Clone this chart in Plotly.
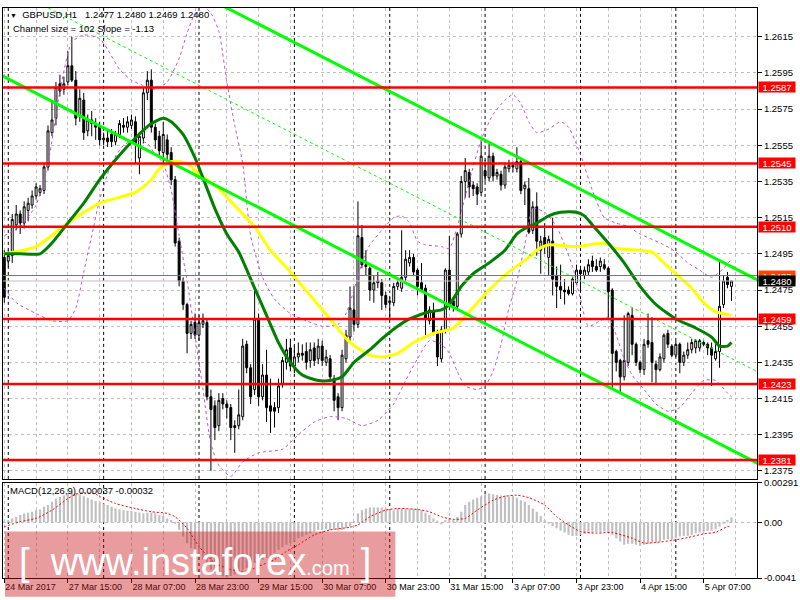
import plotly.graph_objects as go

# bar index 0..183 (H1 bars, GBPUSD)
bars = list(range(184))

opens = [1.2493, 1.2491, 1.2494, 1.2511, 1.2517, 1.2512, 1.2519, 1.2522, 1.2527, 1.2529,
         1.2530, 1.2543, 1.2562, 1.2570, 1.2589, 1.2586, 1.2590, 1.2599, 1.2591, 1.2572,
         1.2580, 1.2563, 1.2569, 1.2566, 1.2566, 1.2558, 1.2559, 1.2561, 1.2557, 1.2561,
         1.2566, 1.2565, 1.2566, 1.2568, 1.2548, 1.2559, 1.2584, 1.2591, 1.2565, 1.2560,
         1.2551, 1.2558, 1.2551, 1.2536, 1.2502, 1.2480, 1.2467, 1.2451, 1.2457, 1.2450,
         1.2456, 1.2457, 1.2416, 1.2411, 1.2400, 1.2415, 1.2412, 1.2410, 1.2400, 1.2400,
         1.2405, 1.2445, 1.2432, 1.2420, 1.2459, 1.2416, 1.2428, 1.2411, 1.2410, 1.2410,
         1.2423, 1.2435, 1.2443, 1.2433, 1.2438, 1.2440, 1.2441, 1.2436, 1.2443, 1.2437,
         1.2444, 1.2435, 1.2437, 1.2426, 1.2416, 1.2410, 1.2437, 1.2449, 1.2464, 1.2456,
         1.2504, 1.2489, 1.2487, 1.2475, 1.2479, 1.2479, 1.2472, 1.2468, 1.2468, 1.2477,
         1.2476, 1.2482, 1.2490, 1.2493, 1.2486, 1.2479, 1.2476, 1.2458, 1.2463, 1.2452,
         1.2437, 1.2453, 1.2486, 1.2469, 1.2466, 1.2506, 1.2535, 1.2540, 1.2533, 1.2532,
         1.2529, 1.2541, 1.2537, 1.2549, 1.2538, 1.2539, 1.2533, 1.2542, 1.2544, 1.2542,
         1.2546, 1.2531, 1.2531, 1.2508, 1.2521, 1.2497, 1.2504, 1.2493, 1.2502, 1.2483,
         1.2477, 1.2475, 1.2475, 1.2473, 1.2479, 1.2486, 1.2483, 1.2485, 1.2491, 1.2488,
         1.2488, 1.2489, 1.2487, 1.2475, 1.2441, 1.2436, 1.2427, 1.2435, 1.2461, 1.2445,
         1.2435, 1.2431, 1.2447, 1.2446, 1.2434, 1.2431, 1.2437, 1.2451, 1.2444, 1.2439,
         1.2445, 1.2435, 1.2439, 1.2442, 1.2443, 1.2443, 1.2446, 1.2445, 1.2443, 1.2437,
         1.2441, 1.2467, 1.2482, 1.2477]

highs = [1.2497, 1.2497, 1.2517, 1.2522, 1.2519, 1.2524, 1.2526, 1.2530, 1.2534, 1.2533,
         1.2545, 1.2566, 1.2579, 1.2590, 1.2594, 1.2593, 1.2607, 1.2615, 1.2596, 1.2586,
         1.2584, 1.2572, 1.2574, 1.2570, 1.2568, 1.2562, 1.2563, 1.2564, 1.2563, 1.2569,
         1.2570, 1.2571, 1.2572, 1.2571, 1.2562, 1.2587, 1.2596, 1.2597, 1.2567, 1.2563,
         1.2568, 1.2561, 1.2554, 1.2538, 1.2504, 1.2482, 1.2468, 1.2458, 1.2462, 1.2461,
         1.2462, 1.2459, 1.2420, 1.2414, 1.2418, 1.2418, 1.2414, 1.2412, 1.2403, 1.2420,
         1.2448, 1.2447, 1.2434, 1.2475, 1.2462, 1.2434, 1.2442, 1.2426, 1.2413, 1.2426,
         1.2438, 1.2448, 1.2448, 1.2444, 1.2446, 1.2445, 1.2446, 1.2446, 1.2446, 1.2448,
         1.2447, 1.2442, 1.2439, 1.2428, 1.2418, 1.2442, 1.2453, 1.2477, 1.2477, 1.2524,
         1.2511, 1.2497, 1.2488, 1.2483, 1.2485, 1.2481, 1.2474, 1.2471, 1.2479, 1.2481,
         1.2508, 1.2497, 1.2497, 1.2495, 1.2487, 1.2490, 1.2478, 1.2466, 1.2468, 1.2453,
         1.2455, 1.2487, 1.2505, 1.2471, 1.2507, 1.2538, 1.2548, 1.2542, 1.2535, 1.2534,
         1.2557, 1.2547, 1.2556, 1.2551, 1.2542, 1.2541, 1.2545, 1.2547, 1.2546, 1.2554,
         1.2548, 1.2535, 1.2537, 1.2524, 1.2529, 1.2505, 1.2512, 1.2505, 1.2515, 1.2488,
         1.2489, 1.2481, 1.2477, 1.2482, 1.2489, 1.2488, 1.2488, 1.2492, 1.2494, 1.2492,
         1.2493, 1.2492, 1.2488, 1.2476, 1.2442, 1.2437, 1.2461, 1.2463, 1.2465, 1.2446,
         1.2436, 1.2448, 1.2462, 1.2460, 1.2436, 1.2440, 1.2451, 1.2453, 1.2445, 1.2447,
         1.2446, 1.2441, 1.2446, 1.2448, 1.2448, 1.2448, 1.2447, 1.2446, 1.2446, 1.2445,
         1.2491, 1.2483, 1.2485, 1.2480]

lows = [1.2468, 1.2488, 1.2490, 1.2508, 1.2506, 1.2509, 1.2513, 1.2520, 1.2525, 1.2527,
        1.2528, 1.2541, 1.2560, 1.2566, 1.2582, 1.2583, 1.2588, 1.2590, 1.2566, 1.2568,
        1.2558, 1.2560, 1.2560, 1.2558, 1.2555, 1.2555, 1.2554, 1.2554, 1.2555, 1.2559,
        1.2562, 1.2562, 1.2564, 1.2545, 1.2539, 1.2556, 1.2580, 1.2562, 1.2553, 1.2548,
        1.2545, 1.2547, 1.2533, 1.2499, 1.2477, 1.2464, 1.2440, 1.2448, 1.2448, 1.2447,
        1.2454, 1.2414, 1.2375, 1.2392, 1.2397, 1.2409, 1.2404, 1.2392, 1.2385, 1.2398,
        1.2403, 1.2429, 1.2412, 1.2417, 1.2411, 1.2414, 1.2402, 1.2396, 1.2399, 1.2407,
        1.2421, 1.2431, 1.2430, 1.2429, 1.2435, 1.2436, 1.2431, 1.2432, 1.2433, 1.2434,
        1.2433, 1.2433, 1.2425, 1.2408, 1.2403, 1.2408, 1.2435, 1.2447, 1.2452, 1.2454,
        1.2487, 1.2483, 1.2469, 1.2468, 1.2476, 1.2464, 1.2465, 1.2459, 1.2466, 1.2475,
        1.2474, 1.2480, 1.2488, 1.2483, 1.2472, 1.2474, 1.2449, 1.2456, 1.2450, 1.2433,
        1.2435, 1.2451, 1.2464, 1.2463, 1.2464, 1.2504, 1.2526, 1.2526, 1.2527, 1.2522,
        1.2527, 1.2535, 1.2535, 1.2535, 1.2536, 1.2530, 1.2531, 1.2540, 1.2540, 1.2540,
        1.2528, 1.2522, 1.2506, 1.2506, 1.2494, 1.2484, 1.2495, 1.2483, 1.2472, 1.2465,
        1.2470, 1.2467, 1.2472, 1.2472, 1.2478, 1.2474, 1.2481, 1.2483, 1.2485, 1.2485,
        1.2485, 1.2486, 1.2459, 1.2420, 1.2430, 1.2418, 1.2425, 1.2433, 1.2439, 1.2433,
        1.2429, 1.2428, 1.2443, 1.2424, 1.2423, 1.2430, 1.2435, 1.2443, 1.2438, 1.2438,
        1.2429, 1.2433, 1.2437, 1.2440, 1.2440, 1.2441, 1.2444, 1.2439, 1.2422, 1.2436,
        1.2432, 1.2465, 1.2476, 1.2469]

closes = [1.2471, 1.2494, 1.2514, 1.2517, 1.2512, 1.2521, 1.2523, 1.2527, 1.2532, 1.2531,
          1.2543, 1.2563, 1.2569, 1.2587, 1.2585, 1.2589, 1.2599, 1.2591, 1.2570, 1.2581,
          1.2562, 1.2569, 1.2567, 1.2565, 1.2558, 1.2559, 1.2557, 1.2557, 1.2561, 1.2567,
          1.2565, 1.2568, 1.2569, 1.2556, 1.2560, 1.2584, 1.2591, 1.2565, 1.2558, 1.2552,
          1.2561, 1.2550, 1.2536, 1.2501, 1.2480, 1.2467, 1.2451, 1.2456, 1.2450, 1.2457,
          1.2458, 1.2416, 1.2409, 1.2399, 1.2414, 1.2412, 1.2410, 1.2399, 1.2399, 1.2406,
          1.2444, 1.2432, 1.2416, 1.2459, 1.2416, 1.2428, 1.2410, 1.2408, 1.2408, 1.2422,
          1.2436, 1.2442, 1.2433, 1.2438, 1.2440, 1.2439, 1.2435, 1.2442, 1.2436, 1.2444,
          1.2436, 1.2438, 1.2427, 1.2414, 1.2410, 1.2439, 1.2450, 1.2465, 1.2456, 1.2505,
          1.2489, 1.2488, 1.2475, 1.2479, 1.2480, 1.2472, 1.2467, 1.2469, 1.2477, 1.2479,
          1.2482, 1.2492, 1.2493, 1.2485, 1.2477, 1.2475, 1.2459, 1.2464, 1.2451, 1.2438,
          1.2453, 1.2486, 1.2468, 1.2466, 1.2506, 1.2535, 1.2541, 1.2532, 1.2531, 1.2528,
          1.2549, 1.2538, 1.2549, 1.2538, 1.2540, 1.2533, 1.2543, 1.2544, 1.2543, 1.2546,
          1.2530, 1.2533, 1.2507, 1.2521, 1.2502, 1.2502, 1.2499, 1.2503, 1.2481, 1.2477,
          1.2475, 1.2474, 1.2473, 1.2481, 1.2486, 1.2484, 1.2486, 1.2489, 1.2488, 1.2486,
          1.2491, 1.2487, 1.2474, 1.2440, 1.2435, 1.2427, 1.2436, 1.2462, 1.2445, 1.2435,
          1.2431, 1.2445, 1.2445, 1.2435, 1.2431, 1.2438, 1.2450, 1.2445, 1.2439, 1.2445,
          1.2435, 1.2439, 1.2442, 1.2446, 1.2447, 1.2447, 1.2445, 1.2443, 1.2439, 1.2441,
          1.2466, 1.2480, 1.2478, 1.2480]

# moving averages (read at sparse bars)
ma_fast_x = [0, 4, 9, 12, 16, 20, 24, 28, 33, 37, 40, 42, 45, 48, 50, 53, 56, 59, 63, 66,
             69, 72, 75, 79, 82, 85, 88, 92, 95, 99, 102, 107, 110, 112, 115, 118, 122, 126, 129, 131,
             134, 137, 140, 144, 146, 148, 152, 156, 160, 164, 169, 174, 178, 180, 182, 183]
ma_fast_y = [1.2495, 1.2495, 1.2495, 1.2501, 1.2512, 1.2523, 1.2536, 1.2547, 1.2559, 1.2567,
             1.2570, 1.2568, 1.2561, 1.2548, 1.2537, 1.2520, 1.2506, 1.2496, 1.2476, 1.2461,
             1.2446, 1.2435, 1.2428, 1.2425, 1.2425, 1.2427, 1.2435, 1.2442, 1.2448, 1.2455,
             1.2459, 1.2463, 1.2464, 1.2467, 1.2477, 1.2484, 1.2490, 1.2497, 1.2506, 1.2509,
             1.2512, 1.2516, 1.2518, 1.2518, 1.2516, 1.2511, 1.2501, 1.2490, 1.2477, 1.2467,
             1.2459, 1.2454, 1.2449, 1.2444, 1.2444, 1.2446]

ma_slow_x = [0, 8, 16, 24, 33, 37, 39, 42, 46, 49, 53, 57, 60, 63, 67, 72, 77, 82, 87, 92,
             95, 99, 103, 108, 113, 117, 122, 127, 132, 134, 137, 144, 151, 154, 160, 163, 166, 169, 173, 176,
             179, 183]
ma_slow_y = [1.2495, 1.2499, 1.2512, 1.2523, 1.2529, 1.2536, 1.2542, 1.2546, 1.2545, 1.2539,
             1.2533, 1.2524, 1.2517, 1.2510, 1.2497, 1.2485, 1.2472, 1.2459, 1.2446, 1.2439,
             1.2438, 1.2440, 1.2446, 1.2451, 1.2454, 1.2463, 1.2475, 1.2485, 1.2493, 1.2497,
             1.2500, 1.2499, 1.2501, 1.2498, 1.2497, 1.2496, 1.2490, 1.2484, 1.2476, 1.2468,
             1.2463, 1.2461]

# envelope bands
band_up_x = [0, 4, 8, 11, 14, 17, 20, 24, 26, 29, 32, 35, 38, 41, 44, 46, 48, 50, 52, 54,
             56, 58, 60, 62, 65, 68, 72, 76, 80, 84, 86, 88, 90, 92, 95, 98, 100, 102, 104, 106,
             110, 112, 114, 117, 120, 123, 126, 128, 130, 132, 134, 137, 140, 142, 145, 148, 151, 154, 157, 160,
             163, 166, 169, 172, 175, 178, 181, 183]
band_up_y = [1.2505, 1.2510, 1.2522, 1.2545, 1.2585, 1.2612, 1.2616, 1.2614, 1.2608, 1.2597,
             1.2591, 1.2588, 1.2586, 1.2590, 1.2603, 1.2617, 1.2628, 1.2632, 1.2628, 1.2618,
             1.2590, 1.2566, 1.2545, 1.2505, 1.2482, 1.2470, 1.2462, 1.2458, 1.2455, 1.2456,
             1.2462, 1.2475, 1.2490, 1.2500, 1.2508, 1.2515, 1.2516, 1.2512, 1.2502, 1.2500,
             1.2499, 1.2498, 1.2510, 1.2535, 1.2558, 1.2572, 1.2580, 1.2583, 1.2578, 1.2568,
             1.2562, 1.2564, 1.2568, 1.2565, 1.2550, 1.2530, 1.2515, 1.2512, 1.2510, 1.2506,
             1.2503, 1.2500, 1.2496, 1.2490, 1.2486, 1.2482, 1.2487, 1.2492]

band_lo_x = [0, 3, 8, 12, 16, 18, 20, 22, 24, 27, 30, 33, 36, 38, 40, 42, 44, 46, 48, 50,
             52, 54, 57, 60, 64, 70, 74, 78, 82, 86, 90, 94, 98, 101, 104, 107, 110, 112, 114, 116,
             119, 121, 123, 125, 127, 129, 131, 133, 136, 139, 141, 143, 145, 147, 150, 152, 154, 156, 158, 161,
             164, 167, 170, 173, 176, 179, 182, 183]
band_lo_y = [1.2476, 1.2468, 1.2462, 1.2458, 1.2458, 1.2465, 1.2485, 1.2505, 1.2525, 1.2545,
             1.2555, 1.2558, 1.2556, 1.2550, 1.2545, 1.2530, 1.2505, 1.2480, 1.2450, 1.2420,
             1.2390, 1.2378, 1.2372, 1.2380, 1.2385, 1.2387, 1.2395, 1.2402, 1.2405, 1.2404,
             1.2400, 1.2403, 1.2412, 1.2425, 1.2437, 1.2447, 1.2445, 1.2440, 1.2430, 1.2422,
             1.2420, 1.2422, 1.2430, 1.2445, 1.2465, 1.2480, 1.2500, 1.2520, 1.2518, 1.2510,
             1.2500, 1.2488, 1.2470, 1.2455, 1.2458, 1.2460, 1.2450, 1.2437, 1.2428, 1.2420,
             1.2412, 1.2408, 1.2410, 1.2418, 1.2425, 1.2425, 1.2418, 1.2416]

# regression channel (slope -1.13 pips/bar, size 102)
channel_x = [-1, 190]
channel_top = [1.26952, 1.24800]
channel_mid = [1.26445, 1.24293]
channel_bot = [1.25939, 1.23787]

# MACD(12,26,9)
macd_hist = [0.00005, 0.00017, 0.00029, 0.00041, 0.00054, 0.00066, 0.00071, 0.00078, 0.00090, 0.00095,
             0.00114, 0.00127, 0.00151, 0.00175, 0.00187, 0.00200, 0.00212, 0.00224, 0.00217, 0.00207,
             0.00192, 0.00182, 0.00168, 0.00158, 0.00146, 0.00139, 0.00127, 0.00114, 0.00102, 0.00095,
             0.00090, 0.00085, 0.00085, 0.00078, 0.00071, 0.00066, 0.00071, 0.00071, 0.00066, 0.00054,
             0.00046, 0.00029, 0.00017, -0.00007, -0.00056, -0.00105, -0.00153, -0.00190, -0.00226, -0.00251,
             -0.00275, -0.00311, -0.00348, -0.00372, -0.00384, -0.00398, -0.00405, -0.00395, -0.00384, -0.00372,
             -0.00348, -0.00336, -0.00324, -0.00299, -0.00287, -0.00275, -0.00263, -0.00246, -0.00226, -0.00202,
             -0.00182, -0.00165, -0.00153, -0.00141, -0.00117, -0.00105, -0.00092, -0.00080, -0.00068, -0.00056,
             -0.00056, -0.00051, -0.00056, -0.00056, -0.00061, -0.00056, -0.00044, -0.00032, 0.00005, 0.00066,
             0.00090, 0.00102, 0.00109, 0.00109, 0.00109, 0.00109, 0.00102, 0.00095, 0.00090, 0.00097,
             0.00102, 0.00102, 0.00102, 0.00102, 0.00095, 0.00090, 0.00071, 0.00054, 0.00029, 0.00012,
             -0.00015, 0.00017, 0.00029, 0.00022, 0.00041, 0.00078, 0.00127, 0.00151, 0.00168, 0.00182,
             0.00192, 0.00207, 0.00212, 0.00207, 0.00202, 0.00197, 0.00197, 0.00192, 0.00192, 0.00182,
             0.00163, 0.00151, 0.00127, 0.00102, 0.00078, 0.00046, 0.00017, -0.00007, -0.00027, -0.00044,
             -0.00061, -0.00075, -0.00092, -0.00100, -0.00100, -0.00092, -0.00085, -0.00080, -0.00075, -0.00075,
             -0.00075, -0.00068, -0.00075, -0.00092, -0.00117, -0.00141, -0.00165, -0.00158, -0.00158, -0.00165,
             -0.00173, -0.00165, -0.00158, -0.00153, -0.00148, -0.00141, -0.00129, -0.00124, -0.00124, -0.00117,
             -0.00105, -0.00100, -0.00100, -0.00092, -0.00080, -0.00075, -0.00068, -0.00063, -0.00061, -0.00051,
             -0.00032, -0.00007, 0.00017, 0.00037]

sig_x = [0, 4, 8, 12, 16, 18, 20, 23, 24, 28, 33, 37, 41, 43, 46, 49, 53, 57, 61, 64,
         68, 71, 74, 78, 82, 87, 89, 92, 96, 99, 104, 107, 110, 113, 116, 119, 123, 126, 129, 132,
         136, 139, 142, 145, 149, 153, 158, 161, 164, 168, 172, 176, 179, 182, 183]
sig_y = [-0.00032, 0.00005, 0.00029, 0.00090, 0.00175, 0.00207, 0.00217, 0.00208, 0.00190, 0.00139,
         0.00102, 0.00078, 0.00066, 0.00041, -0.00044, -0.00178, -0.00299, -0.00348, -0.00360, -0.00324,
         -0.00275, -0.00214, -0.00165, -0.00092, -0.00056, -0.00036, -0.00019, 0.00041, 0.00090, 0.00102,
         0.00095, 0.00078, 0.00041, 0.00022, 0.00029, 0.00090, 0.00163, 0.00192, 0.00200, 0.00182,
         0.00127, 0.00041, -0.00019, -0.00068, -0.00080, -0.00075, -0.00117, -0.00153, -0.00148, -0.00134,
         -0.00112, -0.00085, -0.00073, -0.00032, -0.00032]

# axes / levels
price_ticks = [1.2375, 1.2395, 1.2415, 1.2435, 1.2455, 1.2475, 1.2495,
               1.2515, 1.2535, 1.2555, 1.2575, 1.2595, 1.2615]
levels = [1.2587, 1.2545, 1.2510, 1.2459, 1.2423, 1.2381]
ask_level = 1.2483
bid_level = 1.2480
day_starts = [1, 25, 49, 73, 97, 121, 145, 169]
tick_bars = [0, 16, 32, 48, 64, 80, 96, 112, 128, 144, 160, 176]
tick_text = ["24 Mar 2017", "27 Mar 15:00", "28 Mar 07:00", "28 Mar 23:00", "29 Mar 15:00",
             "30 Mar 07:00", "30 Mar 23:00", "31 Mar 15:00", "3 Apr 07:00", "3 Apr 23:00",
             "4 Apr 15:00", "5 Apr 07:00"]
macd_ticks = [0.00291, 0.0, -0.0041]
macd_ticktext = ["0.00291", "0.00", "-0.0041"]

FONT = "Liberation Sans, Arial, sans-serif"
GRID = "#C0C0C0"
X_RANGE = [-0.325, 189.425]

fig = go.Figure()

fig.add_trace(go.Candlestick(x=bars, open=opens, high=highs, low=lows, close=closes,
                             increasing=dict(line=dict(color="black", width=1), fillcolor="white"),
                             decreasing=dict(line=dict(color="black", width=1), fillcolor="black"),
                             whiskerwidth=0, hoverinfo="skip", showlegend=False))

band_line = dict(color="#BA55D3", width=1, dash="3px,3px", shape="spline", smoothing=0.6)
fig.add_scatter(x=band_up_x, y=band_up_y, mode="lines", line=band_line, hoverinfo="skip")
fig.add_scatter(x=band_lo_x, y=band_lo_y, mode="lines", line=band_line, hoverinfo="skip")

fig.add_scatter(x=ma_slow_x, y=ma_slow_y, mode="lines", hoverinfo="skip",
                line=dict(color="#FFFF00", width=3, shape="spline", smoothing=0.6))
fig.add_scatter(x=ma_fast_x, y=ma_fast_y, mode="lines", hoverinfo="skip",
                line=dict(color="#008000", width=3, shape="spline", smoothing=0.6))

# channel
fig.add_scatter(x=channel_x, y=channel_top, mode="lines", line=dict(color="#00FF00", width=3), hoverinfo="skip")
fig.add_scatter(x=channel_x, y=channel_bot, mode="lines", line=dict(color="#00FF00", width=3), hoverinfo="skip")
fig.add_scatter(x=channel_x, y=channel_mid, mode="lines", line=dict(color="#00FF00", width=1, dash="3px,3px"),
                hoverinfo="skip")

# MACD panel
fig.add_bar(x=bars, y=macd_hist, xaxis="x2", yaxis="y2", marker=dict(color="#C0C0C0", line=dict(width=0)),
            width=0.55, hoverinfo="skip")
fig.add_scatter(x=sig_x, y=sig_y, xaxis="x2", yaxis="y2", mode="lines", hoverinfo="skip",
                line=dict(color="red", width=1, dash="2px,2px", shape="spline", smoothing=0.6))

# horizontal levels
for lv in levels:
    fig.add_shape(type="line", xref="x domain", x0=0, x1=1, yref="y", y0=lv, y1=lv,
                  line=dict(color="#FF0000", width=2.5), layer="above")
fig.add_shape(type="line", xref="x domain", x0=0, x1=1, yref="y", y0=ask_level, y1=ask_level,
              line=dict(color="#FF4500", width=1), layer="above")
fig.add_shape(type="line", xref="x domain", x0=0, x1=1, yref="y", y0=bid_level, y1=bid_level,
              line=dict(color="#C0C0C0", width=1), layer="above")

# day separators
for d in day_starts:
    for xr, yr in (("x", "y domain"), ("x2", "y2 domain")):
        fig.add_shape(type="line", xref=xr, x0=d, x1=d, yref=yr, y0=0, y1=1,
                      line=dict(color="black", width=1, dash="3px,3px"), layer="below")

# price labels on the right
for lv in levels:
    fig.add_annotation(xref="paper", x=1, xanchor="left", xshift=1, yref="y", y=lv,
                       text=f"{lv:.4f}", showarrow=False, bgcolor="#FF0000", width=36, height=10,
                       borderpad=0, font=dict(family=FONT, size=9.5, color="white"))
fig.add_annotation(xref="paper", x=1, xanchor="left", xshift=1, yref="y", y=ask_level,
                   text=f"{ask_level:.4f}", showarrow=False, bgcolor="#FF4500", width=36, height=10,
                   borderpad=0, font=dict(family=FONT, size=9.5, color="white"))
fig.add_annotation(xref="paper", x=1, xanchor="left", xshift=1, yref="y", y=bid_level,
                   text=f"{bid_level:.4f}", showarrow=False, bgcolor="black", width=36, height=10,
                   borderpad=0, font=dict(family=FONT, size=9.5, color="white"))

# header texts
fig.add_annotation(xref="paper", yref="paper", x=0.0066, y=0.9878, xanchor="left", yanchor="middle",
                   showarrow=False, font=dict(family=FONT, size=9.5, color="black"),
                   text="<span style='font-size:7px'>\u25bc</span>\u00a0 GBPUSD,H1\u00a0\u00a0 1.2477 1.2480 1.2469 1.2480")
fig.add_annotation(xref="paper", yref="paper", x=0.0105, y=0.9635, xanchor="left", yanchor="middle",
                   showarrow=False, font=dict(family=FONT, size=9.5, color="black"),
                   text="Channel size = 102 Slope = -1.13")
fig.add_annotation(xref="paper", yref="paper", x=0.0066, y=0.153, xanchor="left", yanchor="middle",
                   showarrow=False, font=dict(family=FONT, size=9.5, color="black"),
                   text="MACD(12,26,9) 0.00037 -0.00032")

# watermark
fig.add_shape(type="rect", xref="paper", yref="paper", x0=0.0026, x1=0.5204, y0=-0.033, y1=0.0817,
              fillcolor="rgba(200,20,25,0.42)", line=dict(width=0), layer="above")
fig.add_annotation(xref="paper", yref="paper", x=0.019, y=0.028, xanchor="left", yanchor="middle",
                   showarrow=False, font=dict(family=FONT, size=38, color="white"),
                   text="[\u00a0\u00a0www.instaforex<span style='font-size:20px'>.com\u00a0\u00a0</span>]")

axis_common = dict(showline=True, mirror=True, linecolor="black", linewidth=1, zeroline=False)

fig.update_layout(
    width=800, height=600, margin=dict(l=2, r=39, t=3, b=22),
    paper_bgcolor="white", plot_bgcolor="white", showlegend=False,
    font=dict(family=FONT, size=9.5, color="black"),
    xaxis=dict(domain=[0, 1], anchor="y", range=X_RANGE, showticklabels=False, ticks="",
               tick0=0, dtick=8, showgrid=True, gridcolor=GRID, griddash="3px,3px",
               rangeslider=dict(visible=False), **axis_common),
    yaxis=dict(domain=[0.17391, 1], anchor="x", side="right", range=[1.23706, 1.26309],
               tickvals=price_ticks, ticktext=[f"{v:.4f}" for v in price_ticks],
               ticks="outside", ticklen=4, tickcolor="black",
               showgrid=True, gridcolor=GRID, griddash="3px,3px", **axis_common),
    xaxis2=dict(domain=[0, 1], anchor="y2", range=X_RANGE, tickvals=tick_bars, ticktext=tick_text,
                ticks="outside", ticklen=4, tickcolor="black", ticklabelposition="outside right",
                tickangle=0, tickfont=dict(size=9), showgrid=False,
                minor=dict(tickmode="linear", tick0=0, dtick=8, showgrid=True, gridcolor=GRID,
                           griddash="3px,3px", ticks=""),
                **axis_common),
    yaxis2=dict(domain=[0, 0.16696], anchor="x2", side="right", range=[-0.0041, 0.00291],
                tickvals=macd_ticks, ticktext=macd_ticktext, ticks="outside", ticklen=4, tickcolor="black",
                showgrid=True, gridcolor=GRID, griddash="3px,3px", **axis_common),
    bargap=0.3,
)

fig.write_html("out.html", config={"displayModeBar": False},
               post_script="document.body.style.margin='0px';")
